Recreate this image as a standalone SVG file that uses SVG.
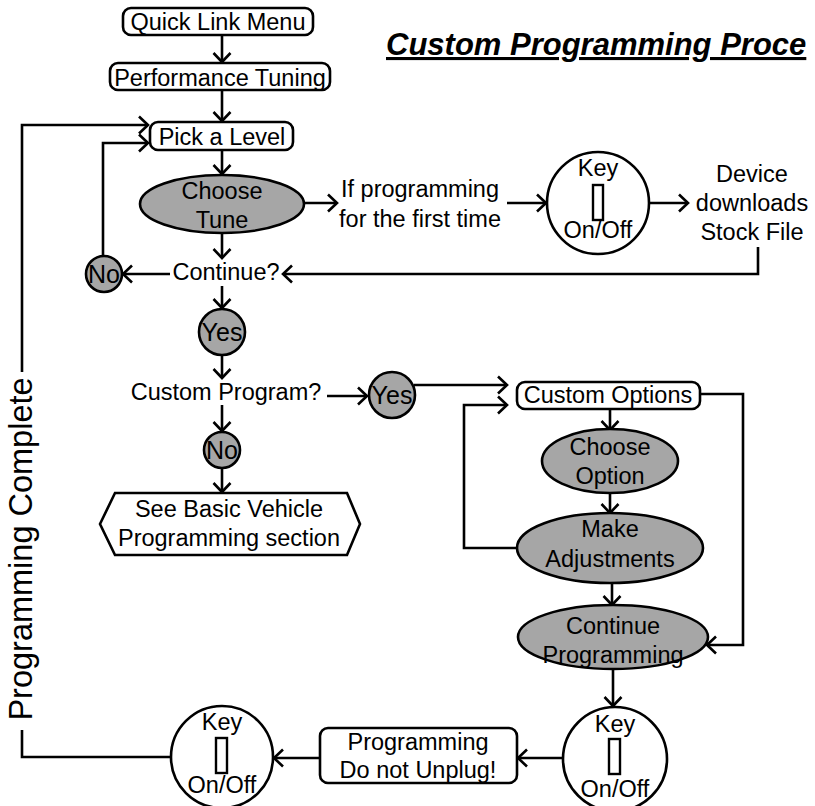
<svg xmlns="http://www.w3.org/2000/svg" width="815" height="806" viewBox="0 0 815 806">
<defs>
<marker id="arr" markerUnits="userSpaceOnUse" markerWidth="20" markerHeight="20" refX="11" refY="10" orient="auto">
<path d="M2,1.5 L11,10 L2,18.5" fill="none" stroke="#000" stroke-width="2.6"/>
</marker>
</defs>
<style>
text{font-family:"Liberation Sans",Arial,sans-serif;font-size:23.5px;fill:#000;text-anchor:middle}
.box{fill:#fff;stroke:#000;stroke-width:2.6}
.gray{fill:#a6a6a6;stroke:#000;stroke-width:2.6}
.key{fill:#fff;stroke:#000;stroke-width:2.6}
.slot{fill:#fff;stroke:#000;stroke-width:2.4}
.yn{font-size:25px}
.c{fill:none;stroke:#000;stroke-width:2.6}
.a{marker-end:url(#arr)}
.title{font-size:31px;font-weight:bold;font-style:italic;text-anchor:start;text-decoration:underline}
</style>
<rect width="815" height="806" fill="#fff"/>

<g id="title"><text class="title" x="386" y="55">Custom Programming Proce</text></g>

<g id="connectors">
<path class="c a" d="M222,35 V62"/>
<path class="c a" d="M222,90 V121"/>
<path class="c" d="M171,757 H22 V730"/>
<path class="c a" d="M22,372 V125 H148"/>
<path class="c a" d="M103,256 V143 H148"/>
<path class="c a" d="M222,150 V174"/>
<path class="c a" d="M304,203 H337"/>
<path class="c a" d="M507,203 H546"/>
<path class="c a" d="M650,203 H688"/>
<path class="c a" d="M758,247 V274 H283"/>
<path class="c a" d="M170,274 H123"/>
<path class="c a" d="M222,233 V258"/>
<path class="c a" d="M222,286 V308"/>
<path class="c a" d="M222,355 V378"/>
<path class="c a" d="M327,396 H367"/>
<path class="c a" d="M222,405 V431"/>
<path class="c a" d="M222,468 V492"/>
<path class="c a" d="M414,385 H507"/>
<path class="c a" d="M517,548 H464 V405 H507"/>
<path class="c a" d="M700,394 H743 V645 H707"/>
<path class="c a" d="M610,409 V430"/>
<path class="c a" d="M610,493 V513"/>
<path class="c a" d="M612,583 V605"/>
<path class="c a" d="M613,669 V706"/>
<path class="c a" d="M563,758 H518"/>
<path class="c a" d="M320,758 H274"/>
</g>

<g id="quick-link-menu"><rect class="box" x="123" y="8" width="190" height="27" rx="8"/><text x="218" y="30">Quick Link Menu</text></g>
<g id="performance-tuning"><rect class="box" x="110" y="63" width="220" height="27" rx="8"/><text x="220" y="86">Performance Tuning</text></g>
<g id="pick-a-level"><rect class="box" x="150" y="122" width="143" height="28" rx="8"/><text x="222" y="145">Pick a Level</text></g>
<g id="choose-tune"><ellipse class="gray" cx="222" cy="204" rx="82" ry="29"/><text x="222" y="199">Choose</text><text x="222" y="228">Tune</text></g>
<g id="first-time"><text x="420" y="197">If programming</text><text x="420" y="227">for the first time</text></g>
<g id="key-1"><circle class="key" cx="598" cy="203" r="51"/><text x="598" y="176">Key</text><rect class="slot" x="593" y="185" width="10" height="35"/><text x="598" y="238">On/Off</text></g>
<g id="device-downloads"><text x="752" y="182">Device</text><text x="752" y="211">downloads</text><text x="752" y="240">Stock File</text></g>
<g id="continue"><text x="226" y="280">Continue?</text></g>
<g id="no-1"><circle class="gray" cx="104" cy="274" r="18"/><text class="yn" x="104" y="283">No</text></g>
<g id="yes-1"><circle class="gray" cx="222" cy="332" r="23"/><text class="yn" x="222" y="341">Yes</text></g>
<g id="custom-program"><text x="226" y="400">Custom Program?</text></g>
<g id="yes-2"><circle class="gray" cx="392" cy="395" r="23"/><text class="yn" x="392" y="404">Yes</text></g>
<g id="no-2"><circle class="gray" cx="222" cy="450" r="18"/><text class="yn" x="222" y="459">No</text></g>
<g id="basic-vehicle"><polygon class="box" points="100,524 115,493 347,493 360,524 347,555 115,555"/><text x="229" y="517">See Basic Vehicle</text><text x="229" y="546">Programming section</text></g>
<g id="custom-options"><rect class="box" x="517" y="382" width="183" height="27" rx="8"/><text x="608" y="403">Custom Options</text></g>
<g id="choose-option"><ellipse class="gray" cx="610" cy="461" rx="68" ry="32"/><text x="610" y="455">Choose</text><text x="610" y="484">Option</text></g>
<g id="make-adjustments"><ellipse class="gray" cx="610" cy="548" rx="93" ry="35"/><text x="610" y="537">Make</text><text x="610" y="567">Adjustments</text></g>
<g id="continue-programming"><ellipse class="gray" cx="613" cy="637" rx="95" ry="32"/><text x="613" y="634">Continue</text><text x="613" y="663">Programming</text></g>
<g id="key-2"><circle class="key" cx="615" cy="759" r="52"/><text x="615" y="732">Key</text><rect class="slot" x="609" y="739" width="11" height="35"/><text x="615" y="797">On/Off</text></g>
<g id="do-not-unplug"><rect class="box" x="320" y="728" width="197" height="55" rx="8"/><text x="418" y="750">Programming</text><text x="418" y="778">Do not Unplug!</text></g>
<g id="key-3"><circle class="key" cx="222" cy="757" r="51"/><text x="222" y="730">Key</text><rect class="slot" x="216" y="738" width="11" height="35"/><text x="222" y="793">On/Off</text></g>
<g id="programming-complete"><text x="0" y="0" transform="translate(32,549) rotate(-90)" style="font-size:32.5px">Programming Complete</text></g>
</svg>
